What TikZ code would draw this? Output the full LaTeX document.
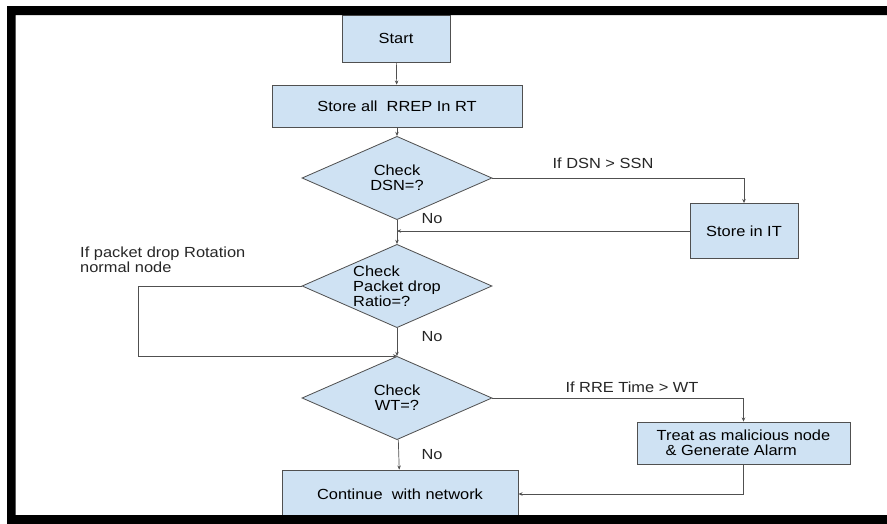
\documentclass[tikz,border=0pt]{standalone}
\usepackage{fontspec}
\setmainfont{Liberation Sans}[FakeStretch=1.12]
\usepackage{tikz}
\usetikzlibrary{shapes.geometric,arrows.meta,positioning}
\definecolor{boxblue}{HTML}{CFE2F3}
\definecolor{linegray}{HTML}{505050}
\tikzset{
  block/.style={rectangle,draw=linegray,fill=boxblue,line width=0.7pt,inner sep=2pt},
  decision/.style={diamond,draw=linegray,fill=boxblue,line width=0.7pt,inner sep=0pt,
    aspect=2.3,minimum width=5.7cm,minimum height=2.5cm,align=center},
  flow/.style={draw=linegray,line width=0.6pt,-{Stealth[length=3.5pt,width=3pt]}},
  lbl/.style={inner sep=0pt,text=black!85}
}

\begin{document}
\begin{tikzpicture}[x=0.03cm,y=-0.03cm,font=\fontsize{12.5}{13}\selectfont]
    \useasboundingbox (0,0) rectangle (887,523);
    \node[block,minimum width=3.24cm,minimum height=1.41cm] (start) at (396,38.5) {Start};
    \node[block,minimum width=7.5cm,minimum height=1.26cm]  (store) at (397,106)  {Store all~ RREP In RT};
    \node[decision] (chkdsn) at (397,178) {Check\\DSN=?};
    \node[block,minimum width=3.24cm,minimum height=1.65cm] (storeit) at (744,231) {Store in IT};
    \node[decision,align=left] (chkpdr) at (397,286) {Check\\Packet drop\\Ratio=?};
    \node[decision] (chkwt) at (397,398) {Check\\WT=?};
    \node[block,minimum width=6.39cm,minimum height=1.26cm,align=left] (treat) at (743.5,443)
        {Treat as malicious node\\\hspace*{0.6em}\& Generate Alarm};
    \node[block,minimum width=7.08cm,minimum height=1.44cm] (cont) at (400,494) {Continue~~with network};

    \node[lbl] (ifdsn) at (603,163) {If DSN > SSN};
    \node[lbl,align=left,anchor=west] (ifpdr) at (80,260) {If packet drop Rotation\\normal node};
    \node[lbl] (ifrre) at (632,387) {If RRE Time > WT};
    \node[lbl] (no1) at (432,219) {No};
    \node[lbl] (no2) at (432,337) {No};
    \node[lbl] (no3) at (432,455) {No};

    \coordinate (join1) at (chkdsn.south |- storeit.west);
    \coordinate (loopl) at (138,286);

    \path[flow]
    (start) edge (store)
    (store) edge (chkdsn)
    (chkdsn) edge (chkpdr)
    (chkpdr) edge (chkwt)
    (chkwt) edge (cont);
    \draw[flow] (storeit.west) -- (join1);
    \draw[flow] (chkdsn.east) -| (storeit.north);
    \draw[flow] (chkpdr.west) -- (loopl) |- (chkwt.north);
    \draw[flow] (chkwt.east) -| (treat.north);
    \draw[flow] (treat.south) |- (cont.east);

    \fill[black,even odd rule] (7,6) rectangle (900,532) (15.5,15) rectangle (893,515);
  \end{tikzpicture}
\end{document}
